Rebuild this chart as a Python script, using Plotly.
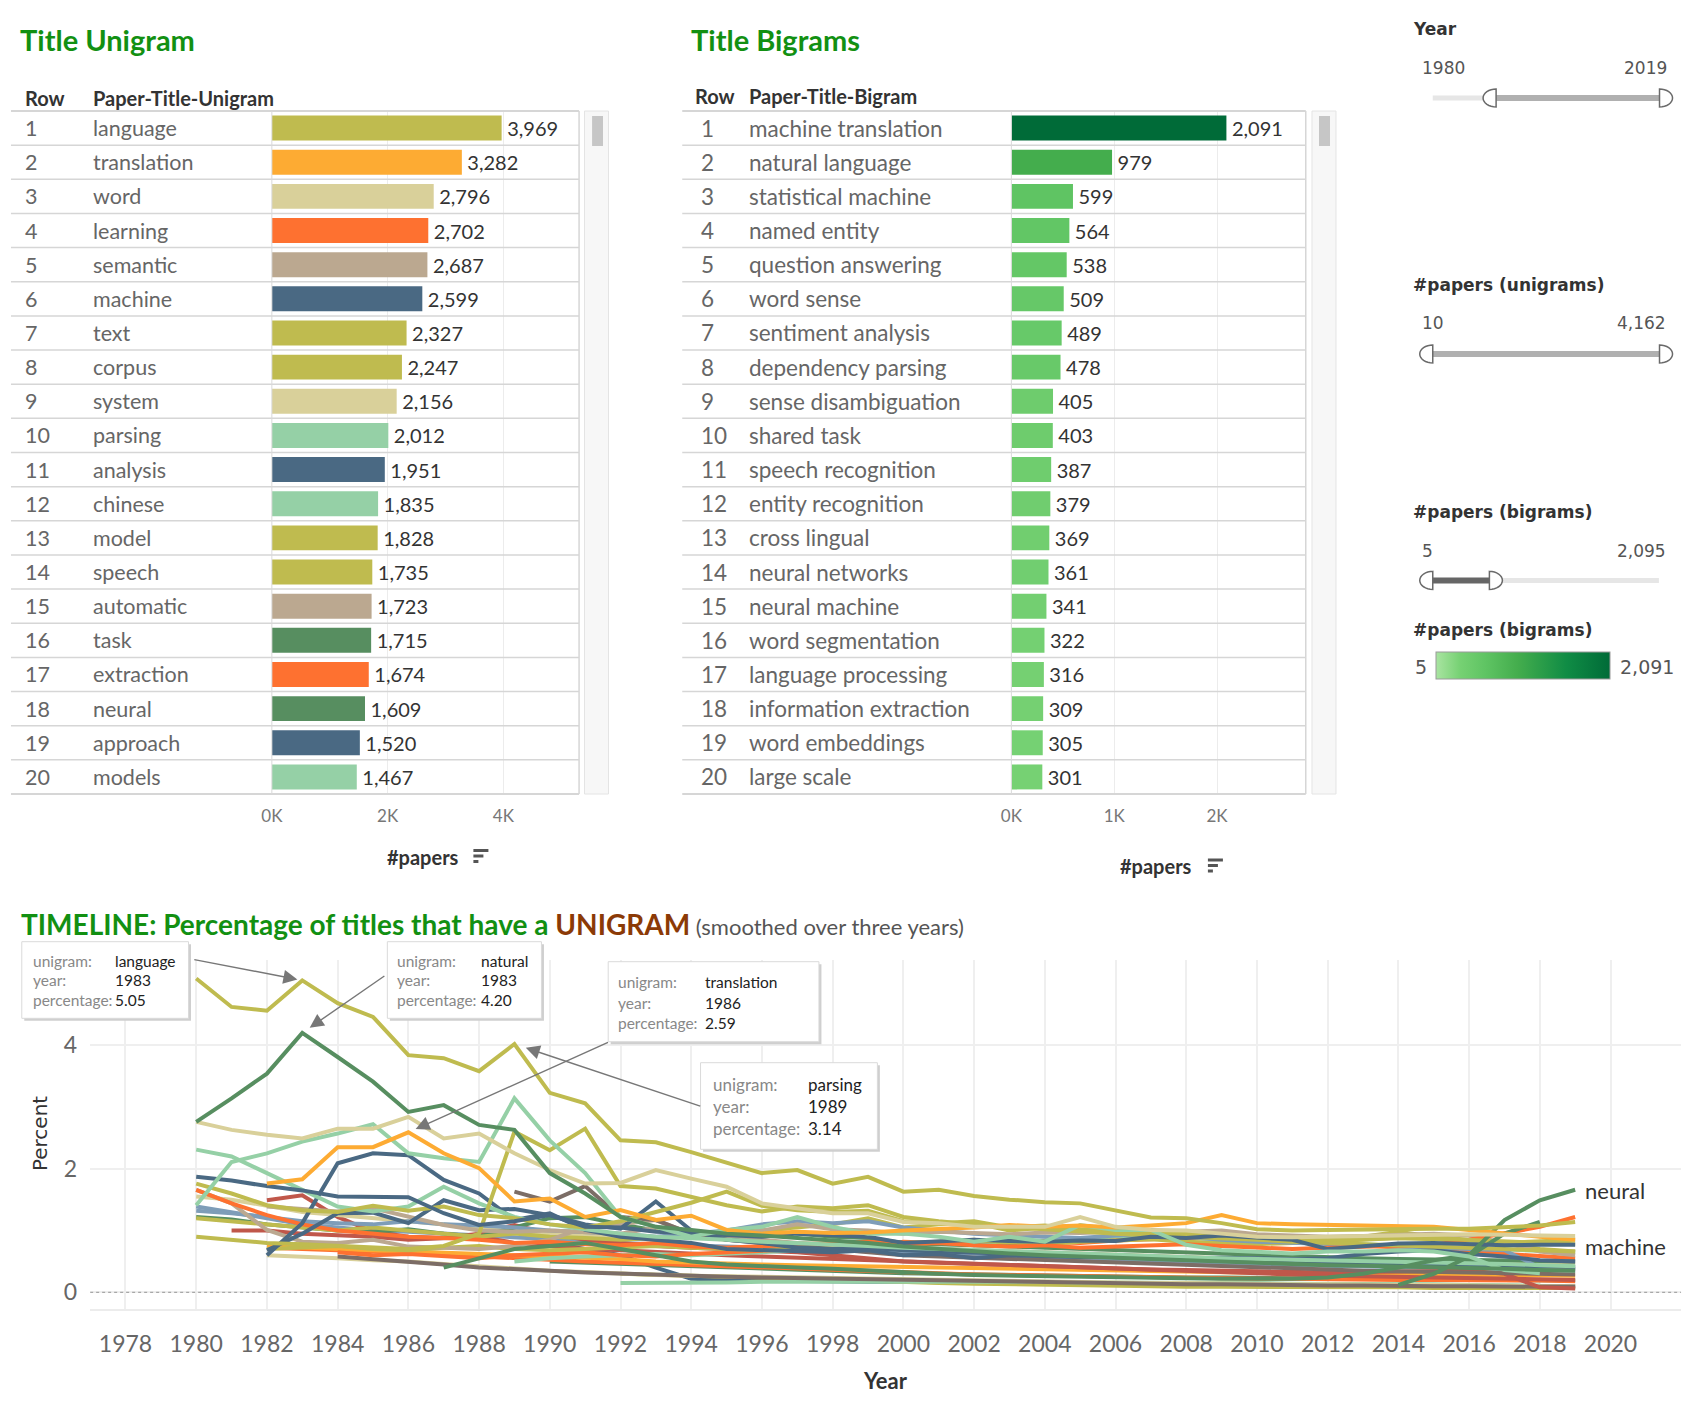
import math
import plotly.graph_objects as go

W, H = 1702, 1404
# The captured page shows the figure shifted right by about 11 px and very slightly
# compressed horizontally, so horizontal pixel positions are corrected here.
SX, OX = 1.0072, -11.0
def XP(x): return SX * x + OX
def PX(x): return XP(x) / W
def PY(y): return 1 - y / H

FONT = "Lato, 'Open Sans', sans-serif"
WIDE = "'DejaVu Sans', Verdana, sans-serif"
N = None

# ---------------- data ----------------
uni_words = ["language", "translation", "word", "learning", "semantic", "machine", "text", "corpus",
             "system", "parsing", "analysis", "chinese", "model", "speech", "automatic", "task",
             "extraction", "neural", "approach", "models"]
uni_counts = [3969, 3282, 2796, 2702, 2687, 2599, 2327, 2247, 2156, 2012,
              1951, 1835, 1828, 1735, 1723, 1715, 1674, 1609, 1520, 1467]
bi_words = ["machine translation", "natural language", "statistical machine", "named entity",
            "question answering", "word sense", "sentiment analysis", "dependency parsing",
            "sense disambiguation", "shared task", "speech recognition", "entity recognition",
            "cross lingual", "neural networks", "neural machine", "word segmentation",
            "language processing", "information extraction", "word embeddings", "large scale"]
bi_counts = [2091, 979, 599, 564, 538, 509, 489, 478, 405, 403,
             387, 379, 369, 361, 341, 322, 316, 309, 305, 301]
row_numbers = list(range(1, 21))

uni_ticks = [0, 2000, 4000]
uni_ticktext = ["0K", "2K", "4K"]
bi_ticks = [0, 1000, 2000]
bi_ticktext = ["0K", "1K", "2K"]

years = list(range(1980, 2020))
year_ticks = list(range(1978, 2021, 2))
pct_ticks = [0, 2, 4]

tl_language = [5.08, 4.62, 4.56, 5.05, 4.68, 4.46, 3.84, 3.79, 3.58, 4.02,
               3.23, 3.06, 2.46, 2.43, 2.27, 2.10, 1.93, 1.98, 1.76, 1.87,
               1.63, 1.66, 1.56, 1.50, 1.46, 1.44, 1.33, 1.21, 1.20, 1.12,
               1.02, 1.00, 1.01, 1.02, 1.02, 1.03, 1.03, 1.05, 1.08, 1.14]
tl_translation = [N, N, 1.76, 1.83, 2.35, 2.35, 2.59, 2.25, 2.01, 1.47,
                  1.52, 1.22, 1.33, 1.17, 1.24, 1.01, 0.95, 0.98, 0.96, 0.97,
                  1.00, 1.02, 1.05, 1.09, 1.06, 1.08, 1.05, 1.08, 1.12, 1.25,
                  1.12, 1.10, 1.09, 1.08, 1.06, 1.06, 1.01, 0.95, 0.90, 0.85]
tl_word = [2.76, 2.63, 2.55, 2.49, 2.65, 2.65, 2.84, 2.49, 2.57, 2.25,
           1.98, 1.76, 1.77, 1.98, 1.84, 1.71, 1.44, 1.36, 1.28, 1.28,
           1.14, 1.12, 1.06, 1.06, 1.06, 1.22, 1.06, 1.01, 1.00, 0.95,
           0.90, 0.89, 0.90, 0.91, 0.92, 0.93, 0.94, 0.93, 0.92, 0.91]
tl_natural = [2.76, 3.14, 3.54, 4.20, 3.81, 3.41, 2.92, 3.03, 2.71, 2.63,
              1.93, 1.60, 1.22, 1.06, 1.01, 0.95, 0.92, 0.88, 0.84, 0.80,
              0.74, 0.70, 0.66, 0.63, 0.60, 0.58, 0.56, 0.53, 0.51, 0.49,
              0.47, 0.45, 0.44, 0.43, 0.42, 0.41, 0.40, 0.38, 0.36, 0.35]
tl_parsing = [1.41, 2.11, 2.25, 2.44, 2.57, 2.72, 2.25, 2.17, 2.11, 3.14,
              2.46, 1.93, 1.22, 1.06, 0.90, 1.01, 1.06, 1.22, 1.06, 0.95,
              0.95, 0.90, 0.82, 0.90, 0.82, 1.09, 1.01, 1.01, 0.77, 0.68,
              0.66, 0.63, 0.66, 0.66, 0.68, 0.66, 0.58, 0.36, 0.31, N]
tl_chinese = [2.31, 2.20, 1.93, 1.66, 1.39, 1.31, 1.39, 1.71, 1.44, 1.22,
              1.10, 1.02, 0.95, 0.90, 0.88, 0.85, 0.82, 0.80, 0.78, 0.75,
              0.72, 0.70, 0.68, 0.66, 0.64, 0.62, 0.60, 0.58, 0.56, 0.55,
              0.54, 0.53, 0.52, 0.51, 0.50, 0.49, 0.48, 0.46, 0.44, 0.42]
tl_machine = [1.87, 1.81, 1.72, 1.65, 1.55, 1.54, 1.54, 1.28, 1.09, 1.15,
              1.25, 1.06, 1.05, 0.98, 0.95, 0.92, 0.90, 0.95, 0.92, 0.90,
              0.80, 0.82, 0.85, 0.83, 0.82, 0.84, 0.83, 0.90, 0.88, 0.92,
              0.88, 0.85, 0.70, 0.74, 0.79, 0.80, 0.78, 0.76, 0.77, 0.77]
tl_analysis = [N, N, 0.60, 1.12, 2.09, 2.25, 2.22, 1.82, 1.60, 1.17,
               1.28, 1.01, 0.90, 0.85, 0.80, 0.70, 0.68, 0.66, 0.65, 0.68,
               0.60, 0.62, 0.55, 0.60, 0.58, 0.57, 0.60, 0.58, 0.55, 0.56,
               0.55, 0.54, 0.55, 0.62, 0.66, 0.68, 0.62, 0.58, 0.52, 0.50]
tl_approach = [N, N, 0.68, 0.95, 1.28, 1.29, 1.12, 1.49, 1.33, 1.35,
               1.25, 1.10, 1.03, 1.47, 1.00, 0.85, 0.80, 0.72, 0.70, 0.72,
               0.68, 0.66, 0.64, 0.62, 0.60, 0.58, 0.56, 0.55, 0.54, 0.52,
               0.50, 0.49, 0.48, 0.47, 0.46, 0.45, 0.44, 0.43, 0.42, 0.41]
tl_learning = [1.66, 1.44, 1.25, 1.10, 1.00, 0.95, 0.90, 0.88, 0.85, 0.80,
               0.82, 0.78, 0.76, 0.80, 0.74, 0.72, 0.75, 0.78, 0.80, 0.82,
               0.78, 0.80, 0.76, 0.74, 0.76, 0.72, 0.74, 0.76, 0.78, 0.75,
               0.72, 0.70, 0.72, 0.74, 0.75, 0.77, 0.85, 0.95, 1.06, 1.22]
tl_semantic = [N, N, 1.39, 1.35, 1.31, 1.36, 1.22, 1.09, 1.00, 0.98,
               1.00, 0.98, 0.95, 1.05, 0.95, 0.92, 1.00, 1.10, 1.02, 1.00,
               0.95, 0.98, 0.96, 0.94, 0.97, 0.96, 0.98, 1.01, 0.98, 1.00,
               0.94, 0.92, 0.90, 0.91, 0.93, 0.95, 0.92, 0.80, 0.66, 0.60]
tl_automatic = [1.66, 1.44, 1.01, 0.82, 0.80, 0.85, 0.74, 0.72, 0.70, 0.75,
                0.85, 1.05, 1.10, 1.17, 0.95, 0.88, 0.85, 0.80, 0.78, 0.75,
                0.72, 0.70, 0.68, 0.66, 0.64, 0.62, 0.60, 0.58, 0.56, 0.54,
                0.52, 0.50, 0.48, 0.47, 0.46, 0.45, 0.44, 0.42, 0.40, 0.38]
tl_text = [1.20, 1.15, 1.10, 1.05, 1.00, 1.05, 1.00, 0.95, 0.90, 0.95,
           0.90, 0.88, 0.85, 0.88, 0.90, 0.95, 1.00, 1.05, 1.10, 1.20,
           1.05, 1.10, 1.12, 1.00, 1.05, 1.00, 0.98, 0.95, 0.92, 0.90,
           0.88, 0.90, 0.85, 0.90, 0.98, 0.90, 0.85, 0.80, 0.70, 0.66]
tl_corpus = [1.76, 1.60, 1.41, 1.33, 1.30, 1.40, 1.32, 1.39, 1.25, 1.20,
             1.10, 1.05, 1.15, 1.30, 1.45, 1.63, 1.40, 1.33, 1.30, 1.32,
             1.15, 1.12, 1.15, 1.05, 1.08, 1.02, 1.00, 0.98, 0.95, 0.92,
             0.90, 0.88, 0.85, 0.86, 0.88, 0.87, 0.85, 0.83, 0.80, 0.78]
tl_speech = [0.90, 0.85, 0.80, 0.78, 0.75, 0.72, 0.70, 0.75, 0.95, 2.60,
             2.30, 2.65, 1.72, 1.68, 1.55, 1.41, 1.31, 1.39, 1.36, 1.41,
             1.22, 1.15, 1.10, 1.05, 1.02, 0.98, 0.95, 0.92, 0.90, 0.88,
             0.85, 0.82, 0.80, 0.78, 0.76, 0.74, 0.72, 0.70, 0.68, 0.66]
tl_system = [1.55, 1.50, 1.40, 1.30, 1.25, 1.20, 1.15, 1.10, 1.05, 1.00,
             0.95, 0.92, 0.90, 0.88, 0.90, 0.85, 0.82, 0.80, 0.78, 0.75,
             0.72, 0.70, 0.68, 0.66, 0.64, 0.62, 0.60, 0.58, 0.56, 0.55,
             0.54, 0.53, 0.52, 0.51, 0.50, 0.49, 0.48, 0.47, 0.46, 0.45]
tl_model = [N, N, 0.70, 0.72, 0.75, 0.70, 0.68, 0.72, 0.75, 0.70,
            0.68, 0.70, 0.72, 0.75, 0.72, 0.70, 0.68, 0.72, 0.75, 0.78,
            0.80, 0.82, 0.85, 0.80, 0.78, 0.82, 0.84, 0.86, 0.82, 0.80,
            0.78, 0.80, 0.82, 0.85, 0.88, 0.86, 0.84, 0.80, 0.82, 0.85]
tl_task = [1.22, 1.18, 1.10, 1.05, 1.00, 0.98, 1.02, 0.95, 0.90, 1.05,
           1.20, 1.22, 1.10, 1.00, 0.95, 0.98, 1.00, 0.95, 0.90, 0.88,
           0.80, 0.78, 0.76, 0.74, 0.72, 0.70, 0.68, 0.66, 0.64, 0.62,
           0.60, 0.58, 0.56, 0.55, 0.54, 0.53, 0.52, 0.51, 0.50, 0.50]
tl_neural = [N, N, N, N, N, N, N, 0.40, 0.55, 0.70,
             0.75, 0.80, 0.70, 0.60, 0.50, 0.45, 0.42, 0.40, 0.38, 0.35,
             0.32, 0.30, 0.28, 0.27, 0.26, 0.25, 0.24, 0.23, 0.22, 0.22,
             0.22, 0.22, 0.24, 0.30, 0.40, 0.52, 0.60, 1.17, 1.49, 1.66]
tl_deep = [N, N, N, N, N, N, N, N, N, N,
           N, N, N, N, N, N, N, N, N, N,
           N, N, N, N, N, N, N, N, N, N,
           N, N, N, N, 0.12, 0.30, 0.58, 0.95, 1.14, N]
tl_extraction = [N, N, N, N, 0.65, 0.60, 0.62, 0.58, 0.55, 0.60,
                 0.62, 0.65, 0.60, 0.58, 0.62, 0.65, 0.68, 0.70, 0.72, 0.75,
                 0.82, 0.80, 0.84, 0.86, 0.82, 0.80, 0.84, 0.86, 0.88, 0.90,
                 0.85, 0.82, 0.80, 0.76, 0.72, 0.70, 0.66, 0.62, 0.58, 0.55]
tl_models = [N, N, N, N, N, N, N, N, N, 0.50,
             0.55, 0.58, 0.60, 0.62, 0.60, 0.62, 0.65, 0.68, 0.70, 0.72,
             0.75, 0.78, 0.80, 0.82, 0.84, 0.86, 0.88, 0.90, 0.88, 0.86,
             0.84, 0.82, 0.80, 0.78, 0.76, 0.74, 0.72, 0.70, 0.68, 0.65]
tl_information = [N, N, 1.49, 1.57, 1.22, 0.98, 0.90, 0.88, 0.95, 1.09,
                  0.95, 0.85, 0.80, 0.75, 0.72, 0.70, 0.68, 0.65, 0.60, 0.55,
                  0.50, 0.48, 0.46, 0.44, 0.42, 0.40, 0.38, 0.37, 0.36, 0.35,
                  0.34, 0.33, 0.32, 0.33, 0.34, 0.35, 0.35, 0.30, 0.08, 0.06]
tl_dialogue = [N, 1.00, 1.00, 0.95, 0.92, 0.90, 0.85, 0.88, 0.90, 0.80,
               0.75, 0.70, 0.68, 0.65, 0.62, 0.60, 0.58, 0.56, 0.54, 0.52,
               0.50, 0.48, 0.46, 0.44, 0.42, 0.40, 0.38, 0.36, 0.34, 0.32,
               0.30, 0.28, 0.27, 0.26, 0.25, 0.24, 0.23, 0.22, 0.21, 0.20]
tl_discourse = [N, N, N, N, N, N, N, N, N, 1.63,
                1.47, 1.72, 1.22, 1.17, 0.95, 0.85, 0.80, 0.75, 0.70, 0.65,
                0.60, 0.58, 0.56, 0.54, 0.52, 0.50, 0.48, 0.46, 0.44, 0.42,
                0.40, 0.38, 0.36, 0.35, 0.34, 0.33, 0.32, 0.31, 0.30, 0.29]
tl_grammar = [N, N, N, N, 0.58, 0.54, 0.50, 0.45, 0.40, 0.38,
              0.35, 0.32, 0.30, 0.28, 0.26, 0.25, 0.24, 0.23, 0.22, 0.21,
              0.20, 0.19, 0.18, 0.17, 0.16, 0.15, 0.14, 0.14, 0.13, 0.13,
              0.12, 0.12, 0.11, 0.11, 0.10, 0.10, 0.10, 0.09, 0.09, 0.09]
tl_lexical = [1.32, 1.28, 1.22, 1.15, 1.12, 1.10, 1.15, 1.10, 1.08, 1.05,
              1.00, 0.98, 0.95, 0.90, 0.95, 1.00, 1.10, 1.15, 1.12, 1.15,
              1.05, 1.00, 0.95, 0.92, 0.90, 0.88, 0.92, 0.95, 0.90, 0.85,
              0.82, 0.80, 0.78, 0.76, 0.75, 0.72, 0.70, 0.68, 0.40, 0.38]
tl_knowledge = [1.39, 1.30, 1.20, 1.10, 1.05, 1.00, 0.98, 0.95, 0.92, 0.88,
                0.85, 0.82, 0.80, 0.78, 0.76, 0.74, 0.72, 0.70, 0.68, 0.66,
                0.64, 0.62, 0.60, 0.58, 0.56, 0.54, 0.52, 0.50, 0.48, 0.46,
                0.45, 0.44, 0.43, 0.42, 0.41, 0.40, 0.39, 0.38, 0.37, 0.36]
tl_generation = [N, N, 0.75, 0.72, 0.70, 0.68, 0.66, 0.64, 0.62, 0.60,
                 0.58, 0.56, 0.54, 0.50, 0.48, 0.46, 0.45, 0.44, 0.43, 0.42,
                 0.41, 0.40, 0.39, 0.38, 0.37, 0.36, 0.35, 0.34, 0.33, 0.32,
                 0.31, 0.30, 0.30, 0.29, 0.29, 0.28, 0.28, 0.28, 0.27, 0.27]
tl_dependency = [N, N, 0.72, 0.70, 0.68, 0.66, 0.64, 0.62, 0.58, 0.55,
                 0.52, 0.50, 0.48, 0.46, 0.44, 0.42, 0.40, 0.38, 0.36, 0.34,
                 0.32, 0.30, 0.29, 0.28, 0.27, 0.26, 0.25, 0.24, 0.24, 0.23,
                 0.22, 0.22, 0.21, 0.21, 0.20, 0.20, 0.20, 0.19, 0.19, 0.18]
tl_dictionary = [N, N, 0.60, 0.58, 0.55, 0.52, 0.50, 0.46, 0.42, 0.38,
                 0.35, 0.33, 0.30, 0.28, 0.27, 0.26, 0.25, 0.24, 0.23, 0.22,
                 0.21, 0.20, 0.19, 0.18, 0.17, 0.16, 0.16, 0.15, 0.15, 0.14,
                 0.14, 0.13, 0.13, 0.12, 0.12, 0.12, 0.11, 0.11, 0.10, 0.10]
tl_recognition = [N, N, N, N, N, N, N, N, N, N,
                  N, N, 0.15, 0.15, 0.16, 0.16, 0.17, 0.17, 0.18, 0.18,
                  0.18, 0.18, 0.17, 0.17, 0.17, 0.16, 0.16, 0.16, 0.15, 0.15,
                  0.15, 0.14, 0.14, 0.14, 0.13, 0.13, 0.12, 0.12, 0.11, N]
tl_evaluation = [N, N, N, N, N, N, N, N, N, N,
                 0.50, 0.48, 0.46, 0.44, 0.42, 0.40, 0.38, 0.36, 0.34, 0.32,
                 0.31, 0.30, 0.29, 0.28, 0.27, 0.26, 0.25, 0.25, 0.24, 0.24,
                 0.23, 0.23, 0.22, 0.22, 0.21, 0.21, 0.20, 0.20, 0.19, 0.19]
tl_english = [N, N, N, N, N, N, N, N, N, N,
              N, N, 0.30, 0.28, 0.26, 0.25, 0.24, 0.22, 0.20, 0.18,
              0.16, 0.15, 0.14, 0.13, 0.12, 0.11, 0.10, 0.10, 0.09, 0.09,
              0.09, 0.08, 0.08, 0.08, 0.08, 0.07, 0.07, 0.07, 0.07, 0.07]
tl_statistical = [N, N, N, N, N, N, N, N, N, N,
                  0.80, 0.70, 0.60, 0.40, 0.22, 0.20, 0.19, 0.18, 0.18, 0.17,
                  0.17, 0.16, 0.16, 0.15, 0.15, 0.15, 0.14, 0.14, 0.14, 0.13,
                  0.13, 0.13, 0.12, 0.12, 0.12, 0.11, 0.11, 0.11, 0.10, 0.10]

# callouts: (unigram, year, percentage) as shown in the reference tooltips
callout_words = ["language", "natural", "translation", "parsing"]
callout_years = [1983, 1983, 1986, 1989]
callout_values = [5.05, 4.20, 2.59, 3.14]

# ---------------- styles ----------------
OLIVE, ORANGE, BEIGE, REDOR = "#BFBB4F", "#FDAB33", "#D9D09A", "#FE7130"
TAUPE, NAVY, MINT, DGREEN = "#BBA890", "#4A6983", "#95D0A6", "#578E60"
BRICK, GBROWN, STEEL = "#C0574A", "#7C6D66", "#7E9DB8"
GREEN_T, BROWN_T = "#129012", "#8B3A06"

uni_color_map = {"language": OLIVE, "translation": ORANGE, "word": BEIGE, "learning": REDOR,
                 "semantic": TAUPE, "machine": NAVY, "text": OLIVE, "corpus": OLIVE,
                 "system": BEIGE, "parsing": MINT, "analysis": NAVY, "chinese": MINT,
                 "model": OLIVE, "speech": OLIVE, "automatic": TAUPE, "task": DGREEN,
                 "extraction": REDOR, "neural": DGREEN, "approach": NAVY, "models": MINT}

timeline = [
    ("statistical", tl_statistical, NAVY), ("english", tl_english, OLIVE),
    ("evaluation", tl_evaluation, DGREEN), ("recognition", tl_recognition, MINT),
    ("dictionary", tl_dictionary, BEIGE), ("dependency", tl_dependency, REDOR),
    ("generation", tl_generation, ORANGE), ("grammar", tl_grammar, GBROWN),
    ("knowledge", tl_knowledge, STEEL), ("dialogue", tl_dialogue, BRICK),
    ("information", tl_information, BRICK), ("models", tl_models, MINT),
    ("extraction", tl_extraction, REDOR), ("model", tl_model, OLIVE),
    ("system", tl_system, BEIGE), ("task", tl_task, DGREEN),
    ("text", tl_text, OLIVE), ("lexical", tl_lexical, STEEL),
    ("automatic", tl_automatic, TAUPE), ("semantic", tl_semantic, TAUPE),
    ("learning", tl_learning, REDOR), ("discourse", tl_discourse, GBROWN),
    ("approach", tl_approach, NAVY), ("analysis", tl_analysis, NAVY),
    ("chinese", tl_chinese, MINT), ("corpus", tl_corpus, OLIVE),
    ("speech", tl_speech, OLIVE), ("deep", tl_deep, DGREEN),
    ("machine", tl_machine, NAVY), ("neural", tl_neural, DGREEN),
    ("parsing", tl_parsing, MINT), ("translation", tl_translation, ORANGE),
    ("word", tl_word, BEIGE), ("natural", tl_natural, DGREEN),
    ("language", tl_language, OLIVE),
]
for _n, _d, _c in timeline:
    assert len(_d) == len(years), _n

# ---------------- geometry (reference pixels) ----------------
TOP, ROWH = 111.0, 34.15
BOT = TOP + 20 * ROWH
U_L, U_BAR, U_R = 10.9, 271.6, 578.6
U_SCALE = 0.05785
B_L, B_BAR, B_R = 681.7, 1010.6, 1304.8
B_SCALE = 0.10277
T_L, T_R, T_T, T_B = 90.0, 1680.0, 960.0, 1309.3
T_XR = [1977, 2022]
T_YR = [-0.275, 5.38]

def tx(year): return T_L + (year - T_XR[0]) * (T_R - T_L) / (T_XR[1] - T_XR[0])
def ty(v): return T_T + (T_YR[1] - v) * (T_B - T_T) / (T_YR[1] - T_YR[0])

fig = go.Figure()

# ---------------- bar traces ----------------
fig.add_trace(go.Bar(
    x=uni_counts, y=row_numbers, orientation="h", xaxis="x", yaxis="y",
    marker=dict(color=[uni_color_map[w] for w in uni_words], line=dict(width=0)),
    width=0.73, text=["\u2009" + f"{v:,}" for v in uni_counts], textposition="outside",
    textfont=dict(family=FONT, size=20, color="#333"), constraintext="none",
    cliponaxis=False, hoverinfo="skip"))

fig.add_trace(go.Bar(
    x=bi_counts, y=row_numbers, orientation="h", xaxis="x2", yaxis="y2",
    marker=dict(color=bi_counts, cmin=5, cmax=2091,
                colorscale=[[0, "#a9e4a1"], [0.14, "#76d173"], [0.285, "#5fc463"],
                            [0.47, "#44ad4d"], [0.75, "#108c45"], [1, "#006b38"]],
                line=dict(width=0), showscale=True,
                colorbar=dict(orientation="h", thickness=26.7, thicknessmode="pixels",
                              len=172.6 * SX, lenmode="pixels",
                              x=PX((1435.7 + 1608.3) / 2), xanchor="center",
                              y=PY(666), yanchor="middle",
                              showticklabels=False, ticks="", outlinewidth=1,
                              outlinecolor="#9a9a9a", xpad=0, ypad=0, borderwidth=0)),
    width=0.73, text=["\u2009" + f"{v:,}" for v in bi_counts], textposition="outside",
    textfont=dict(family=FONT, size=20, color="#333"), constraintext="none",
    cliponaxis=False, hoverinfo="skip"))

# ---------------- timeline traces ----------------
fig.add_trace(go.Scatter(x=T_XR, y=[0, 0], mode="lines", xaxis="x3", yaxis="y3",
                         line=dict(color="#a8a8a8", width=1.2, dash="dot"), hoverinfo="skip"))
for name, vals, col in timeline:
    fig.add_trace(go.Scatter(x=years, y=vals, mode="lines", name=name,
                             xaxis="x3", yaxis="y3", connectgaps=False,
                             line=dict(color=col, width=4.0), hoverinfo="skip"))

# ---------------- axes ----------------
bar_axis_common = dict(showgrid=True, gridcolor="#ececec", gridwidth=1, zeroline=False,
                       ticks="", showline=False, tickfont=dict(family=FONT, size=17, color="#777"),
                       ticklabelstandoff=10, fixedrange=True)
fig.update_layout(
    width=W, height=H, margin=dict(l=0, r=0, t=0, b=0), autosize=False,
    paper_bgcolor="white", plot_bgcolor="rgba(0,0,0,0)", showlegend=False,
    font=dict(family=FONT, color="#333"),
    xaxis=dict(domain=[PX(U_BAR), PX(U_R)], range=[0, (U_R - U_BAR) / U_SCALE], anchor="y",
               tickmode="array", tickvals=uni_ticks, ticktext=uni_ticktext, **bar_axis_common),
    yaxis=dict(domain=[PY(BOT), PY(TOP)], range=[20.5, 0.5], anchor="x", visible=False),
    xaxis2=dict(domain=[PX(B_BAR), PX(B_R)], range=[0, (B_R - B_BAR) / B_SCALE], anchor="y2",
                tickmode="array", tickvals=bi_ticks, ticktext=bi_ticktext, **bar_axis_common),
    yaxis2=dict(domain=[PY(BOT), PY(TOP)], range=[20.5, 0.5], anchor="x2", visible=False),
    xaxis3=dict(domain=[PX(T_L), PX(T_R)], range=T_XR, anchor="y3", tickmode="array",
                tickvals=year_ticks, showgrid=True, gridcolor="#efefef", gridwidth=1.5,
                zeroline=False, ticks="", showline=True, linecolor="#ececec", linewidth=2,
                tickfont=dict(family=FONT, size=23, color="#666"), ticklabelstandoff=13),
    yaxis3=dict(domain=[PY(T_B), PY(T_T)], range=T_YR, anchor="x3", tickmode="array",
                tickvals=pct_ticks, showgrid=True, gridcolor="#efefef", gridwidth=1.5,
                zeroline=False, ticks="", tickfont=dict(family=FONT, size=23, color="#666"),
                ticklabelstandoff=12),
)

shapes = []
ann = []

def hline(x0, x1, y, color, width, layer="above"):
    shapes.append(dict(type="line", xref="paper", yref="paper", x0=PX(x0), x1=PX(x1),
                       y0=PY(y), y1=PY(y), line=dict(color=color, width=width), layer=layer))

def vline(x, y0, y1, color, width, layer="above"):
    shapes.append(dict(type="line", xref="paper", yref="paper", x0=PX(x), x1=PX(x),
                       y0=PY(y0), y1=PY(y1), line=dict(color=color, width=width), layer=layer))

def rect(x0, y0, x1, y1, fill, line=None, lw=0, layer="above"):
    shapes.append(dict(type="rect", xref="paper", yref="paper", x0=PX(x0), x1=PX(x1),
                       y0=PY(y1), y1=PY(y0), fillcolor=fill,
                       line=dict(color=line or fill, width=lw), layer=layer))

def text(x, y, s, size, color="#333", family=FONT, xanchor="left", yanchor="middle", angle=0):
    ann.append(dict(x=PX(x), y=PY(y), xref="paper", yref="paper", text=s, showarrow=False,
                    xanchor=xanchor, yanchor=yanchor, textangle=angle,
                    font=dict(family=family, size=size, color=color)))

# ---------------- tables ----------------
for (L, BAR, R, xhead, xnum, xword, words, wsize, title, tx_title, head_y, head_word, sbar) in [
    (U_L, U_BAR, U_R, 22.7, 22.7, 90.7, uni_words, 21.5, "Title Unigram", 18.3, 97.7,
     "Paper-Title-Unigram", (584, 608, 591.6, 602.5)),
    (B_L, B_BAR, B_R, 692.5, 698.0, 746.8, bi_words, 22.5, "Title Bigrams", 688.0, 95.5,
     "Paper-Title-Bigram", (1311, 1335, 1318, 1329)),
]:
    text(tx_title, 40, "<b>" + title + "</b>", 29, GREEN_T)
    text(xhead, head_y, "<b>Row</b>", 20, "#333")
    text(xword, head_y, "<b>" + head_word + "</b>", 20, "#333")
    for k in range(21):
        hline(L, R, TOP + k * ROWH, "#d6d6d6", 1.5 if 0 < k < 20 else 2)
    vline(BAR, TOP, BOT, "#d9d9d9", 1)
    vline(R, TOP, BOT, "#d6d6d6", 1.5)
    for i, (n, w) in enumerate(zip(row_numbers, words)):
        yc = TOP + (i + 0.5) * ROWH
        text(xnum, yc, str(n), wsize, "#666")
        text(xword, yc, w, wsize, "#666")
    rect(sbar[0], TOP, sbar[1], BOT, "#f7f7f7", "#e4e4e4", 1, layer="below")
    rect(sbar[2], 116, sbar[3], 146, "#c6c6c6")

for cx, cy, ix, iy in [(423, 856.5, 473, 849), (1155, 866, 1207, 858.5)]:
    text(cx, cy, "<b>#papers</b>", 20, "#333", xanchor="center")
    for j, wdt in enumerate([15, 10, 5]):
        rect(ix, iy + j * 5.5, ix + wdt, iy + j * 5.5 + 3, "#555")

# ---------------- right panel (filters) ----------------
def handle(f, c, side, rx=13.0, r=9.0):
    pts = []
    for k in range(17):
        t = math.pi * k / 16
        pts.append((f + side * rx * math.sin(t), c - r * math.cos(t)))
    path = "M " + " L ".join(f"{PX(x):.6f},{PY(y):.6f}" for x, y in pts) + " Z"
    shapes.append(dict(type="path", xref="paper", yref="paper", path=path,
                       fillcolor="white", line=dict(color="#6a6a6a", width=1.5)))

text(1410, 29, "<b>Year</b>", 17, "#333", WIDE)
text(1419.3, 67.7, "1980", 17, "#555", WIDE)
text(1667.7, 67.7, "2019", 17, "#555", WIDE, xanchor="right")
hline(1431.7, 1483, 98, "#e6e6e6", 5)
hline(1495, 1658.3, 98, "#b0b0b0", 6)
handle(1495, 98, -1)
handle(1658.3, 98, 1)

text(1410, 285, "<b>#papers (unigrams)</b>", 17, "#333", WIDE)
text(1419.3, 323, "10", 17, "#555", WIDE)
text(1666.7, 323, "4,162", 17, "#555", WIDE, xanchor="right")
hline(1431.7, 1658.3, 354, "#b0b0b0", 6)
handle(1431.7, 354, -1)
handle(1658.3, 354, 1)

text(1410, 512, "<b>#papers (bigrams)</b>", 17, "#333", WIDE)
text(1419.3, 551, "5", 17, "#555", WIDE)
text(1666.7, 551, "2,095", 17, "#555", WIDE, xanchor="right")
hline(1500, 1657.7, 580.4, "#e6e6e6", 5)
hline(1431.7, 1488.3, 580.4, "#666666", 6)
handle(1431.7, 580.4, -1)
handle(1488.3, 580.4, 1)

text(1410, 630.3, "<b>#papers (bigrams)</b>", 17, "#333", WIDE)
text(1428.3, 666.8, "5", 19, "#555", WIDE, xanchor="right")
text(1616.7, 666.8, "2,091", 19, "#555", WIDE)

# ---------------- timeline decorations ----------------
text(18.5, 923.8,
     "<b><span style='color:%s'>TIMELINE: Percentage of titles that have a </span>"
     "<span style='color:%s'>UNIGRAM</span></b>"
     "<span style='color:#555;font-size:22px'> (smoothed over three years)</span>" % (GREEN_T, BROWN_T),
     28, GREEN_T)
text(40, 1134, "Percent", 20, "#333", WIDE, xanchor="center", angle=-90)
text(884.7, 1380.8, "<b>Year</b>", 22, "#333", xanchor="center")
text(1581.7, 1190, "neural", 22, "#333")
text(1581.7, 1246, "machine", 22, "#333")

boxes = [
    (21.7, 941.7, 188.3, 1018.3, 30.5, 113.3, 960.7, 19.7, 15.5, 193.3, 959.3, None, 5),
    (387.0, 941.7, 541.0, 1018.3, 395.0, 478.3, 960.7, 19.7, 15.5, 385.0, 975.0, None, 9),
    (607.7, 961.7, 818.3, 1041.7, 616.0, 702.7, 981.7, 20.8, 15.5, 607.7, 1041.7, None, 8),
    (700.0, 1062.7, 876.7, 1149.3, 710.0, 805.0, 1084.0, 22.3, 17, 700.0, 1106.7, 4.02, 12),
]
for (x0, y0, x1, y1, lx, vx, ly, dy, fs, tlx, tly, tipv, so), w, yr, v in zip(
        boxes, callout_words, callout_years, callout_values):
    rect(x0 + 2.5, y0 + 2.5, x1 + 2.5, y1 + 2.5, "#cfcfcf")
    rect(x0, y0, x1, y1, "white", "#dadada", 1)
    for j, (lab, val) in enumerate([("unigram:", w), ("year:", str(yr)), ("percentage:", f"{v:.2f}")]):
        text(lx, ly + j * dy, lab, fs, "#888")
        text(vx, ly + j * dy, val, fs, "#222")
    pv = v if tipv is None else tipv
    ann.append(dict(x=yr, y=pv, xref="x3", yref="y3", text="", showarrow=True,
                    ax=XP(tlx) - XP(tx(yr)), ay=tly - ty(pv), axref="pixel", ayref="pixel",
                    arrowhead=2, arrowsize=2.0, arrowwidth=1.4, arrowcolor="#777",
                    standoff=so))

fig.update_layout(shapes=shapes, annotations=ann)

fig.write_html("out.html", config={"displayModeBar": False},
               post_script="document.body.style.margin='0';document.body.style.overflow='hidden';")
